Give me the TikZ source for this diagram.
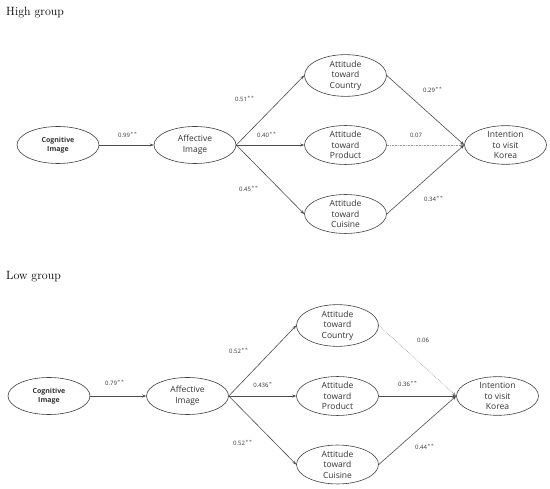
\documentclass[tikz,border=0pt]{standalone}
\usepackage{fontspec}
\setsansfont{Open Sans}
\usepackage{tikz}
\usetikzlibrary{shapes.geometric,arrows.meta}

\begin{document}
\begin{tikzpicture}[x=1pt,y=1pt]
	\tikzstyle{var_plain} = [ellipse, draw=black!75, line width=0.6pt, minimum width=82pt, minimum height=37pt, inner sep=0pt, align=center, font=\sffamily\fontsize{8.5}{10.5}\selectfont, text=black!80]
	\tikzstyle{var_bold} = [var_plain, font=\sffamily\bfseries\fontsize{7}{9}\selectfont]
	\tikzstyle{path_sig} = [draw=black!70, line width=0.6pt, -{Stealth[length=4pt,width=3pt]}]
	\tikzstyle{path_ns} = [draw=black!40, line width=0.6pt, densely dotted, -{Stealth[length=4pt,width=3pt]}]
	\tikzstyle{coef} = [font=\sffamily\fontsize{6}{6}\selectfont, text=black!80]
	\tikzstyle{group_title} = [anchor=west, font=\fontsize{12}{13}\selectfont, inner sep=0pt]

	\useasboundingbox (0,0) rectangle (550,-489);

%------------------------------------------------------------
	\node[group_title] (high) at (6,-13) {High group};

	\node[var_bold] (cogH) at (58,-145) {Cognitive\\Image};
	\node[var_plain] (affH) at (195,-145) {Affective\\Image};
	\node[var_plain] (cntH) at (345.5,-75.5) {Attitude\\toward\\Country};
	\node[var_plain] (prdH) at (345.5,-145) {Attitude\\toward\\Product};
	\node[var_plain] (csnH) at (345.5,-214) {Attitude\\toward\\Cuisine};
	\node[var_plain] (intH) at (505.5,-145) {Intention\\to visit\\Korea};

	\draw[path_sig] (cogH) -- (affH);
	\draw[path_sig] (affH.east) -- (cntH.west);
	\draw[path_sig] (affH.east) -- (prdH.west);
	\draw[path_sig] (affH.east) -- (csnH.west);
	\draw[path_sig] (cntH.east) -- (intH.west);
	\draw[path_ns] (prdH.east) -- (intH.west);
	\draw[path_sig] (csnH.east) -- (intH.west);

	\node[coef] (cH1) at (128,-135) {0.99$^{**}$};
	\node[coef] (cH2) at (245,-99) {0.51$^{**}$};
	\node[coef] (cH3) at (267,-135) {0.40$^{**}$};
	\node[coef] (cH4) at (249,-189) {0.45$^{**}$};
	\node[coef] (cH5) at (433,-90) {0.29$^{**}$};
	\node[coef] (cH6) at (416,-135) {0.07};
	\node[coef] (cH7) at (434,-199) {0.34$^{**}$};

%------------------------------------------------------------
	\node[group_title] (low) at (6,-277) {Low group};

	\node[var_bold] (cogL) at (49,-396) {Cognitive\\Image};
	\node[var_plain] (affL) at (187.5,-396) {Affective\\Image};
	\node[var_plain] (cntL) at (337.5,-325.5) {Attitude\\toward\\Country};
	\node[var_plain] (prdL) at (337.5,-396) {Attitude\\toward\\Product};
	\node[var_plain] (csnL) at (337.5,-464.5) {Attitude\\toward\\Cuisine};
	\node[var_plain] (intL) at (497.5,-396) {Intention\\to visit\\Korea};

	\draw[path_sig] (cogL) -- (affL);
	\draw[path_sig] (affL.east) -- (cntL.west);
	\draw[path_sig] (affL.east) -- (prdL.west);
	\draw[path_sig] (affL.east) -- (csnL.west);
	\draw[path_ns] (cntL.east) -- (intL.west);
	\draw[path_sig] (prdL.east) -- (intL.west);
	\draw[path_sig] (csnL.east) -- (intL.west);

	\node[coef] (cL1) at (115,-383) {0.79$^{**}$};
	\node[coef] (cL2) at (239,-351) {0.52$^{**}$};
	\node[coef] (cL3) at (263,-385) {0.436$^{*}$};
	\node[coef] (cL4) at (243,-443) {0.52$^{**}$};
	\node[coef] (cL5) at (423,-340) {0.06};
	\node[coef] (cL6) at (408,-384) {0.36$^{**}$};
	\node[coef] (cL7) at (425,-447) {0.44$^{**}$};

\end{tikzpicture}
\end{document}
